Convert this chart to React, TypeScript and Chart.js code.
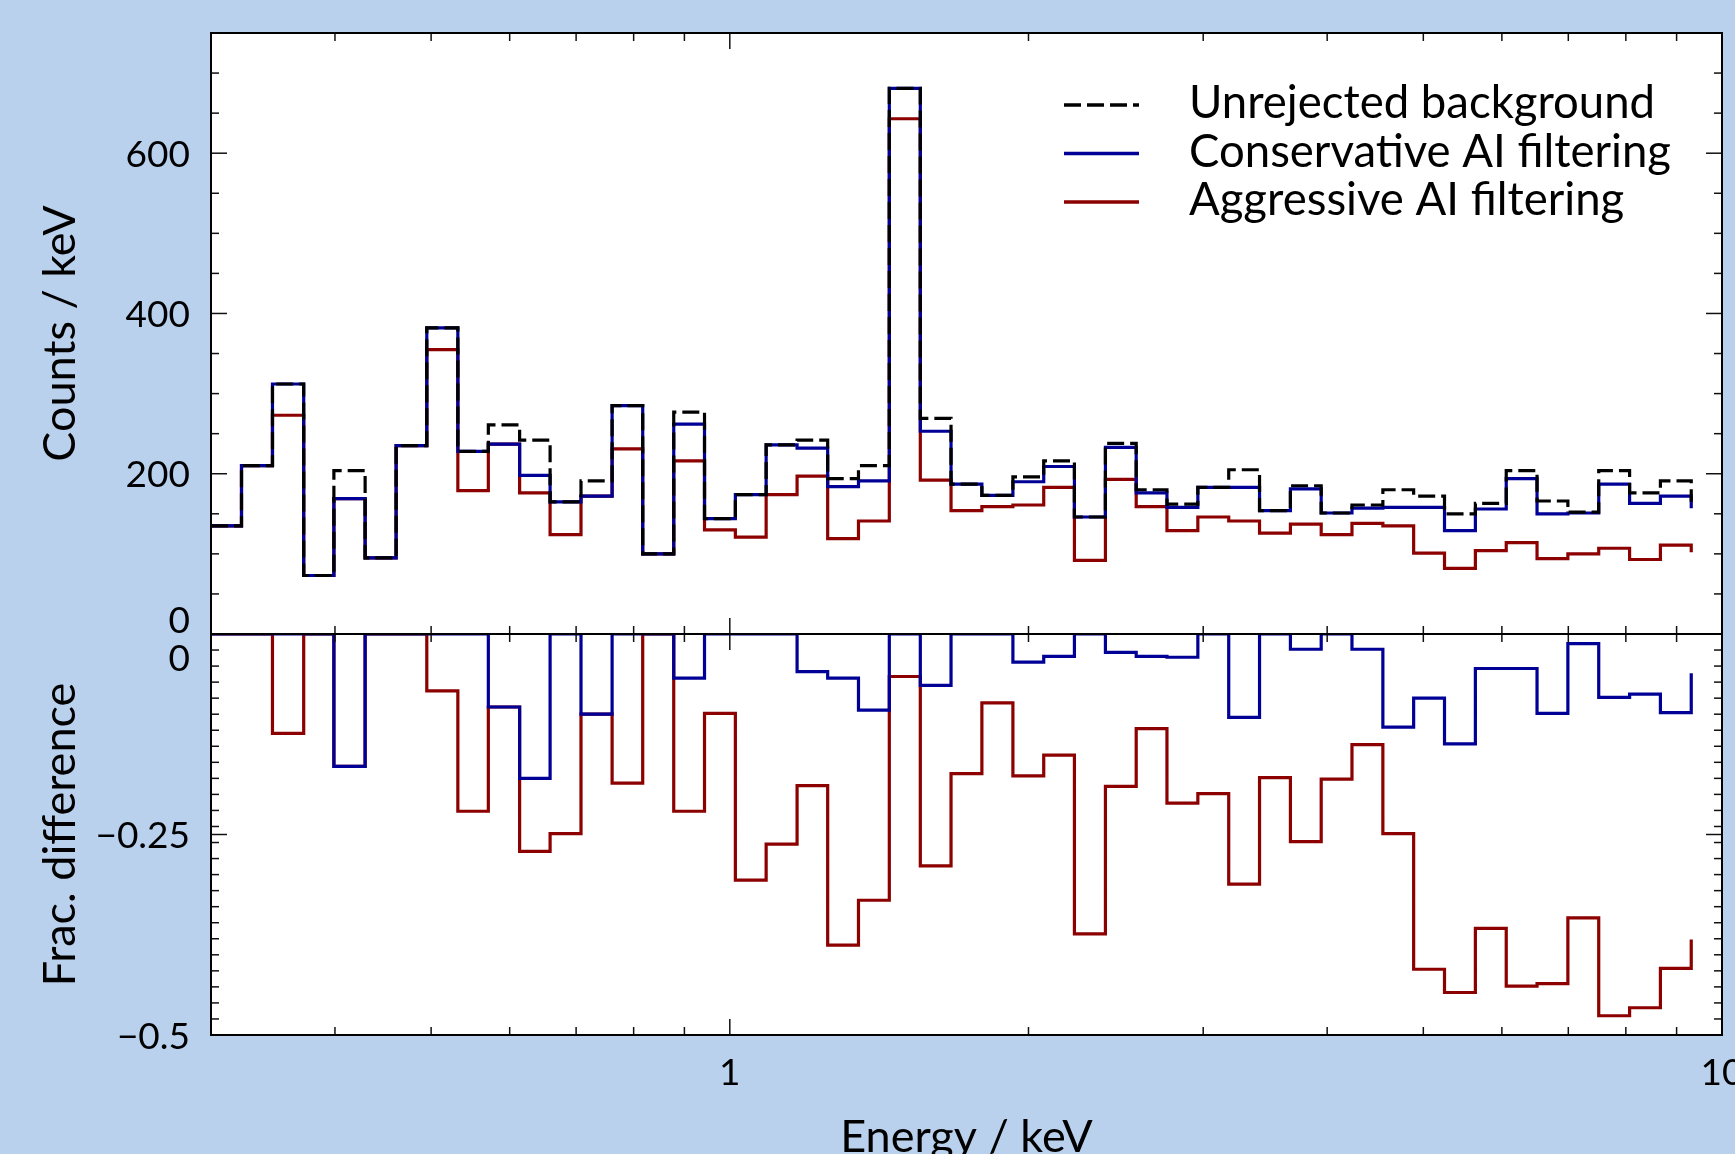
import React, { useEffect, useRef } from "react";
import { Chart, registerables } from "chart.js";

Chart.register(...registerables);

const W = 1735;
const H = 1154;
const BG = "#BAD1EE";
const BLUE = "#000096";
const RED = "#8C0000";
const FONT = "Lato, 'Open Sans', sans-serif";

// Left bin edges (keV), logarithmic binning 0.3 – 10 keV
const binEdges = [
  0.300, 0.322, 0.346, 0.372, 0.399, 0.429, 0.461, 0.495, 0.532, 0.571,
  0.614, 0.659, 0.708, 0.761, 0.817, 0.878, 0.943, 1.013, 1.088, 1.169,
  1.255, 1.348, 1.448, 1.556, 1.671, 1.795, 1.929, 2.072, 2.225, 2.391,
  2.568, 2.758, 2.963, 3.183, 3.419, 3.673, 3.945, 4.237, 4.552, 4.889,
  5.252, 5.642, 6.061, 6.510, 6.993, 7.512, 8.070, 8.668, 9.311,
];

// Counts / keV
const unrejected = [
  135, 210, 312, 73, 204, 95, 235, 382, 228, 261,
  242, 165, 191, 285, 100, 277, 144, 174, 236, 242,
  194, 210, 681, 269, 187, 173, 196, 216, 146, 238,
  180, 162, 183, 205, 154, 185, 151, 161, 180, 172,
  150, 163, 204, 166, 152, 204, 176, 191, 165,
];
const conservative = [
  135, 210, 312, 73, 169, 95, 235, 382, 228, 237,
  198, 165, 172, 285, 100, 262, 144, 174, 236, 232,
  184, 191, 681, 253, 187, 173, 190, 209, 146, 233,
  176, 158, 183, 183, 154, 181, 151, 157, 158, 158,
  129, 156, 194, 150, 151, 187, 163, 172, 157,
];
const aggressive = [
  135, 210, 273, 73, 169, 95, 235, 355, 179, 237,
  176, 124, 172, 231, 100, 216, 130, 121, 174, 197,
  119, 141, 643, 192, 154, 159, 161, 183, 92, 193,
  159, 129, 146, 141, 126, 137, 124, 138, 135, 101,
  82, 104, 114, 94, 100, 107, 93, 111, 102,
];

// Fractional difference relative to the unrejected background
const fracConservative = [
  0, 0, 0, 0, -0.165, 0, 0, 0, 0, -0.091,
  -0.180, 0, -0.100, 0, 0, -0.055, 0, 0, 0, -0.047,
  -0.055, -0.095, 0, -0.064, 0, 0, -0.035, -0.028, 0, -0.023,
  -0.028, -0.029, 0, -0.104, 0, -0.019, 0, -0.019, -0.116, -0.080,
  -0.137, -0.043, -0.043, -0.099, -0.012, -0.079, -0.075, -0.098, -0.049,
];
const fracAggressive = [
  0, 0, -0.124, 0, -0.165, 0, 0, -0.071, -0.221, -0.091,
  -0.271, -0.249, -0.100, -0.186, 0, -0.221, -0.099, -0.307, -0.262, -0.189,
  -0.388, -0.332, -0.053, -0.289, -0.174, -0.086, -0.177, -0.151, -0.374, -0.190,
  -0.118, -0.211, -0.199, -0.312, -0.179, -0.259, -0.181, -0.138, -0.249, -0.418,
  -0.447, -0.367, -0.439, -0.436, -0.354, -0.476, -0.466, -0.417, -0.381,
];

const legendLabels = [
  "Unrejected background",
  "Conservative AI filtering",
  "Aggressive AI filtering",
];

// Axis ticks
const xMajorTicks = [1, 10];
const xMinorTicks = [0.4, 0.5, 0.6, 0.7, 0.8, 0.9, 2, 3, 4, 5, 6, 7, 8, 9];
const xTickValues = [1, 10];
const xTickLabels = ["1", "10"];

const countsMajorTicks = [200, 400, 600];
const countsMinorTicks = [50, 100, 150, 250, 300, 350, 450, 500, 550, 650, 700];
const countsTickValues = [0, 200, 400, 600];
const countsTickLabels = ["0", "200", "400", "600"];

const fracMajorTicks = [-0.25];
const fracMinorTicks = [
  -0.02, -0.04, -0.06, -0.08, -0.1, -0.12, -0.14, -0.16, -0.18, -0.2, -0.22, -0.24,
  -0.26, -0.28, -0.3, -0.32, -0.34, -0.36, -0.38, -0.4, -0.42, -0.44, -0.46, -0.48,
];
const fracTickValues = [0, -0.25, -0.5];
const fracTickLabels = ["0", "\u22120.25", "\u22120.5"];

const xTitle = "Energy / keV";
const countsTitle = "Counts / keV";
const fracTitle = "Frac. difference";

const PLOT_LEFT = 211;
const PLOT_RIGHT = 1722;
const PLOT_TOP = 33;
const PLOT_MID = 634;
const PLOT_BOTTOM = 1035;

const TICK_FONT = `37px ${FONT}`;
const TITLE_FONT = `45px ${FONT}`;
const LEGEND_FONT = `45.5px ${FONT}`;
const DASH = [17, 6];
const LINE_W = 3.2;

function series(ys: number[]) {
  return binEdges.map((x, i) => ({ x, y: ys[i] }));
}

function lineDs(label: string, ys: number[], color: string, dash: number[]) {
  return {
    label,
    data: series(ys),
    borderColor: color,
    backgroundColor: color,
    borderWidth: LINE_W,
    borderDash: dash,
    borderJoinStyle: "miter" as const,
    stepped: "before" as const,
    pointRadius: 0,
    fill: false,
    tension: 0,
  };
}

function decorPlugin(kind: "upper" | "lower") {
  return {
    id: "decor-" + kind,
    beforeDraw(chart: any) {
      const { ctx, chartArea: a } = chart;
      ctx.save();
      if (kind === "upper") {
        ctx.fillStyle = BG;
        ctx.fillRect(0, 0, chart.width, chart.height);
      }
      ctx.fillStyle = "#ffffff";
      ctx.fillRect(a.left, a.top, a.right - a.left, a.bottom - a.top);
      ctx.restore();
    },
    afterDraw(chart: any) {
      const { ctx, chartArea: a, scales } = chart;
      const xs = scales.x;
      const ys = scales.y;
      ctx.save();
      const seg = (x1: number, y1: number, x2: number, y2: number) => {
        ctx.beginPath();
        ctx.moveTo(x1, y1);
        ctx.lineTo(x2, y2);
        ctx.stroke();
      };
      ctx.strokeStyle = "#111";
      ctx.lineWidth = 1.5;
      const xt = (v: number, len: number) => {
        const px = xs.getPixelForValue(v);
        seg(px, a.top, px, a.top + len);
        seg(px, a.bottom, px, a.bottom - len);
      };
      xMajorTicks.forEach((v) => xt(v, 16));
      xMinorTicks.forEach((v) => xt(v, 8));
      const yt = (v: number, len: number) => {
        const py = ys.getPixelForValue(v);
        seg(a.left, py, a.left + len, py);
        seg(a.right, py, a.right - len, py);
      };
      const majors = kind === "upper" ? countsMajorTicks : fracMajorTicks;
      const minors = kind === "upper" ? countsMinorTicks : fracMinorTicks;
      majors.forEach((v) => yt(v, 16));
      minors.forEach((v) => yt(v, 8));

      // frame
      ctx.strokeStyle = "#000";
      ctx.lineWidth = 2;
      ctx.strokeRect(a.left, a.top, a.right - a.left, a.bottom - a.top);

      // y tick labels
      ctx.fillStyle = "#000";
      ctx.font = TICK_FONT;
      ctx.textAlign = "right";
      ctx.textBaseline = "alphabetic";
      const vals = kind === "upper" ? countsTickValues : fracTickValues;
      const labs = kind === "upper" ? countsTickLabels : fracTickLabels;
      vals.forEach((v, i) => {
        const py = ys.getPixelForValue(v);
        let base = py + 13.5;
        if (v === 0) base = kind === "upper" ? py - 1 : py + 37;
        ctx.fillText(labs[i], a.left - 21, base);
      });

      // y title
      ctx.font = TITLE_FONT;
      ctx.textAlign = "center";
      ctx.save();
      ctx.translate(75, (a.top + a.bottom) / 2);
      ctx.rotate(-Math.PI / 2);
      ctx.fillText(kind === "upper" ? countsTitle : fracTitle, 0, 0);
      ctx.restore();

      if (kind === "lower") {
        ctx.font = TICK_FONT;
        ctx.textAlign = "center";
        xTickValues.forEach((v, i) => {
          ctx.fillText(xTickLabels[i], xs.getPixelForValue(v), a.bottom + 50);
        });
        ctx.font = TITLE_FONT;
        ctx.fillText(xTitle, (a.left + a.right) / 2, a.bottom + 117);
      } else {
        // legend
        const colors = ["#000", BLUE, RED];
        const dashes = [DASH, [], []];
        const x0 = a.right - 658;
        const x1 = a.right - 583;
        const tx = a.right - 533;
        legendLabels.forEach((lab, i) => {
          const ly = a.top + 72 + i * 48.5;
          ctx.strokeStyle = colors[i];
          ctx.lineWidth = 3.5;
          ctx.setLineDash(dashes[i]);
          seg(x0, ly, x1, ly);
          ctx.setLineDash([]);
          ctx.fillStyle = "#000";
          ctx.font = LEGEND_FONT;
          ctx.textAlign = "left";
          ctx.fillText(lab, tx, a.top + 85 + i * 48.5);
        });
      }
      ctx.restore();
    },
  };
}

function makeConfig(kind: "upper" | "lower") {
  const upper = kind === "upper";
  const datasets = upper
    ? [
        lineDs(legendLabels[0], unrejected, "#000", DASH),
        lineDs(legendLabels[1], conservative, BLUE, []),
        lineDs(legendLabels[2], aggressive, RED, []),
      ]
    : [
        lineDs(legendLabels[1], fracConservative, BLUE, []),
        lineDs(legendLabels[2], fracAggressive, RED, []),
      ];
  return {
    type: "line" as const,
    data: { datasets },
    options: {
      responsive: false,
      animation: false as const,
      events: [],
      layout: {
        padding: {
          left: PLOT_LEFT,
          right: W - PLOT_RIGHT,
          top: upper ? PLOT_TOP : PLOT_MID,
          bottom: upper ? H - PLOT_MID : H - PLOT_BOTTOM,
        },
      },
      plugins: {
        legend: { display: false },
        tooltip: { enabled: false },
        title: { display: false },
      },
      scales: {
        x: { type: "logarithmic" as const, min: 0.3, max: 10, display: false },
        y: upper
          ? { type: "linear" as const, min: 0, max: 750, display: false }
          : { type: "linear" as const, min: -0.5, max: 0, display: false },
      },
    },
    plugins: [decorPlugin(kind)],
  };
}

export default function App() {
  const upperRef = useRef<HTMLCanvasElement | null>(null);
  const lowerRef = useRef<HTMLCanvasElement | null>(null);

  useEffect(() => {
    const c1 = new Chart(upperRef.current as HTMLCanvasElement, makeConfig("upper") as any);
    const c2 = new Chart(lowerRef.current as HTMLCanvasElement, makeConfig("lower") as any);
    return () => {
      c1.destroy();
      c2.destroy();
    };
  }, []);

  const cv: React.CSSProperties = {
    position: "absolute",
    left: 0,
    top: 0,
    width: W,
    height: H,
    display: "block",
  };

  return (
    <div
      style={{
        position: "fixed",
        left: 0,
        top: 0,
        width: W,
        height: H,
        background: BG,
        overflow: "hidden",
      }}
    >
      <canvas ref={upperRef} width={W} height={H} style={cv} />
      <canvas ref={lowerRef} width={W} height={H} style={cv} />
    </div>
  );
}
